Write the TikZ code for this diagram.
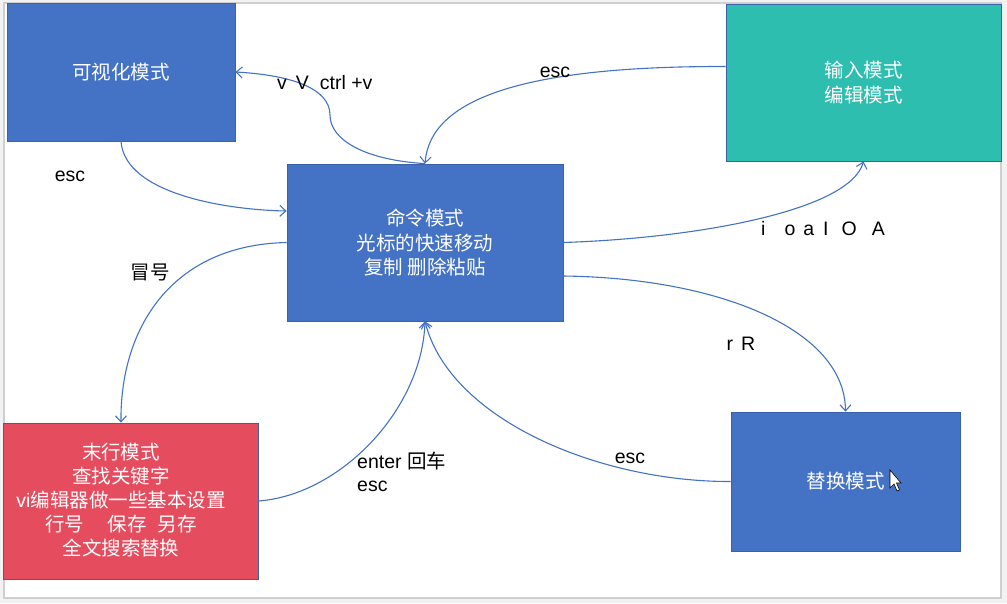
\documentclass[tikz,border=0pt]{standalone}
\usepackage{fontspec}
\setmainfont{Liberation Sans}
\newfontfamily\cjk{Noto Sans CJK SC}
\usetikzlibrary{arrows.meta}
\definecolor{pblue}{HTML}{4472C4}
\definecolor{pteal}{HTML}{2EBEB0}
\definecolor{pred}{HTML}{E54C5E}
\definecolor{pedge}{HTML}{3A62AB}
\definecolor{pframe}{HTML}{CFCFCF}
\begin{document}
\begin{tikzpicture}[x=1pt,y=-1pt,
  box/.style={rectangle, draw=pedge, line width=0.8pt, text=white, align=center,
    inner sep=0pt, font=\fontsize{19.5}{24.5}\selectfont\cjk},
  conn/.style={draw=pblue, line width=1.1pt, -{Straight Barb[length=6pt,width=11pt]}},
  plain/.style={draw=pblue, line width=1.1pt},
  lbl/.style={font=\fontsize{19.5}{22.5}\selectfont, text=black, inner sep=0pt, align=left}]
\useasboundingbox (0,0) rectangle (1007,603);
\fill[black!5] (0,0) rectangle (1007,603);
\fill[white] (4,3) rectangle (1001,598);
\draw[pframe, line width=1.5pt] (4,3) rectangle (1001,598);

% boxes
\node[box, fill=pblue, minimum width=228pt, minimum height=138pt] (vis) at (121,72) {可视化模式};
\node[box, fill=pteal, minimum width=275pt, minimum height=157pt] (inp) at (863.5,82.5) {输入模式\\编辑模式};
\node[box, fill=pblue, minimum width=276pt, minimum height=157pt] (cmd) at (425,242.5) {命令模式\\光标的快速移动\\复制\hspace{5pt}删除粘贴};
\node[box, fill=pred, minimum width=255pt, minimum height=156pt] (red) at (130.5,501) {};
\node[font=\fontsize{19.5}{24}\selectfont\cjk, text=white, align=center, inner sep=0pt] (redtxt) at (121,500)
  {末行模式\\查找关键字\\{\rmfamily\fontspec{Liberation Sans}vi}编辑器做一些基本设置\\行号\hspace{24pt}保存\hspace{11pt}另存\\全文搜索替换};
\node[box, fill=pblue, minimum width=229pt, minimum height=139pt] (rep) at (845.5,481.5) {替换模式};

% connectors
\draw[conn] (cmd.north) .. controls (365,160) and (330,140) .. (330,115)
  .. controls (330,88) and (290,75) .. (vis.east);
\draw[conn] ([yshift=16pt]inp.west) .. controls (520,66) and (430,100) .. (cmd.north);
\draw[conn] (vis.south) .. controls (125,195) and (230,210) .. ([yshift=31.5pt]cmd.west);
\draw[conn] (cmd.east) .. controls (700,238) and (850,210) .. (inp.south);
\draw[conn] ([yshift=-33.5pt]cmd.east) .. controls (720,278) and (845,330) .. (rep.north);
\draw[conn] (rep.west) .. controls (600,482) and (450,420) .. (cmd.south);
\draw[conn] (red.east) .. controls (340,495) and (422,410) .. (cmd.south);
\draw[conn] (cmd.west) .. controls (170,245) and (120,330) .. ([xshift=-9.5pt]red.north);

% labels
\node[lbl, anchor=west] (l1) at (277,83) {v\hspace{9pt}V\hspace{11pt}ctrl +v};
\node[lbl] (l2) at (555,72) {esc};
\node[lbl] (l3) at (70,176) {esc};
\node[lbl, anchor=west] (l4) at (761,229) {i\hspace{19pt}o\hspace{8pt}a\hspace{9pt}I\hspace{13pt}O\hspace{15pt}A};
\node[lbl] (l5) at (741,344) {r\hspace{8pt}R};
\node[lbl] (l6) at (150,272) {\cjk 冒号};
\node[lbl] (l7) at (630,458) {esc};
\node[lbl, anchor=north west] (l8) at (357,452) {enter {\cjk 回车}\\esc};

% mouse cursor
\draw[black, fill=white, line width=0.6pt] (890,470) -- (890,488) -- (894,484) -- (897,491)
  -- (899.5,490) -- (896.5,483) -- (901,483) -- cycle;
\end{tikzpicture}
\end{document}
